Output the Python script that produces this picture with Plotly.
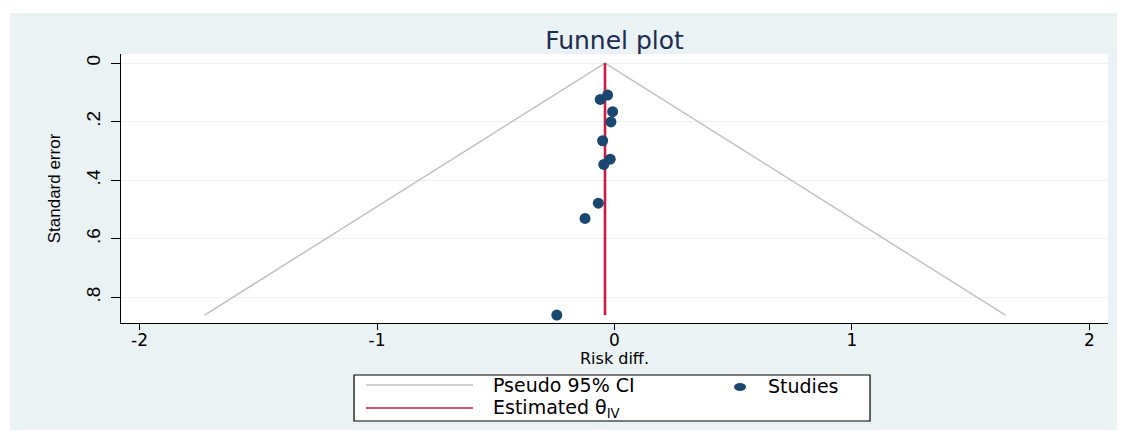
import plotly.graph_objects as go

# study estimates
studies_rd = [-0.029, -0.060, -0.008, -0.015, -0.050, -0.018, -0.045, -0.068, -0.124, -0.243]
studies_se = [0.109, 0.124, 0.166, 0.201, 0.265, 0.328, 0.346, 0.478, 0.530, 0.860]

# pooled estimate and pseudo 95% CI funnel
theta_rd = [-0.040, -0.040]
theta_se = [0.0, 0.860]
ci_rd = [-1.726, -0.040, 1.646]
ci_se = [0.860, 0.0, 0.860]

x_ticks = [-2, -1, 0, 1, 2]
x_labels = ["-2", "-1", "0", "1", "2"]
y_ticks = [0, 0.2, 0.4, 0.6, 0.8]
y_labels = ["0", ".2", ".4", ".6", ".8"]

BG = "#EAF2F3"
NAVY = "#1A476F"
RED = "#CC1A44"
CI_GRAY = "#C3C3C3"
H_FONT = "DejaVu Sans"
V_FONT = "Liberation Sans"

fig = go.Figure()

fig.add_trace(go.Scatter(x=ci_rd, y=ci_se, mode="lines", name="Pseudo 95% CI",
                         line=dict(color=CI_GRAY, width=1.5), hoverinfo="skip"))
fig.add_trace(go.Scatter(x=theta_rd, y=theta_se, mode="lines", name="Estimated θIV",
                         line=dict(color=RED, width=2.6)))
fig.add_trace(go.Scatter(x=studies_rd, y=studies_se, mode="markers", name="Studies",
                         marker=dict(color=NAVY, size=11, line=dict(width=0))))

# page body adds an 8px offset, so the figure is 8px smaller than the window
fig.update_layout(
    width=1117, height=425,
    margin=dict(l=113, r=17, t=46, b=110),
    paper_bgcolor=BG, plot_bgcolor="white",
    showlegend=False,
    title=dict(text="Funnel plot", x=0.5, xref="paper", y=1 - 32 / 425, yanchor="middle",
               font=dict(family=H_FONT, size=25, color="#1C2B52")),
)

fig.update_xaxes(
    range=[-2.078, 2.078], tickvals=x_ticks, ticktext=x_labels,
    ticks="outside", ticklen=6, tickcolor="black", tickwidth=1, ticklabelstandoff=-5,
    showline=True, linecolor="black", linewidth=1.3,
    showgrid=False, zeroline=False,
    tickfont=dict(family=H_FONT, size=17, color="black"),
)
fig.update_yaxes(
    range=[0.887, -0.031], tickvals=y_ticks, ticktext=y_labels, tickangle=-90,
    ticks="outside", ticklen=9, tickcolor="black", tickwidth=1, ticklabelstandoff=3,
    showline=True, linecolor="black", linewidth=1.3,
    showgrid=True, gridcolor=BG, gridwidth=1, zeroline=False,
    tickfont=dict(family=V_FONT, size=19, color="black"),
    title=dict(text="Standard error", standoff=18, font=dict(family=V_FONT, size=17, color="black")),
)

# x axis title sits tight under the tick labels, as in Stata
fig.add_annotation(text="Risk diff.", xref="paper", yref="paper", x=0.5, y=-0.1338,
                   xanchor="center", yanchor="middle", showarrow=False,
                   font=dict(family=H_FONT, size=16, color="black"))

# white outer border strips around the grey graph region
for x0, x1, y0, y1 in [(-0.2, -0.1125, -0.5, 1.3), (-0.2, 1.1, 1.1524, 1.3), (-0.2, 1.1, -0.5, -0.3978)]:
    fig.add_shape(type="rect", xref="paper", yref="paper", x0=x0, x1=x1, y0=y0, y1=y1,
                  fillcolor="white", line=dict(width=0), layer="below")

# legend box drawn by hand so it matches the two-column Stata layout
fig.add_shape(type="rect", xref="paper", yref="paper", x0=0.2361, x1=0.7589, y0=-0.3643, y1=-0.1933,
              fillcolor="white", line=dict(color="black", width=1.2), layer="below")
fig.add_shape(type="line", xref="paper", yref="paper", x0=0.2482, x1=0.3566, y0=-0.2305, y1=-0.2305,
              line=dict(color=CI_GRAY, width=1.5))
fig.add_shape(type="line", xref="paper", yref="paper", x0=0.2482, x1=0.3566, y0=-0.3160, y1=-0.3160,
              line=dict(color=RED, width=1.5))
fig.add_shape(type="circle", xref="paper", yref="paper", xsizemode="pixel", ysizemode="pixel",
              xanchor=0.6272, yanchor=-0.2379, x0=-6, x1=6, y0=-4, y1=4,
              fillcolor=NAVY, line=dict(width=0))
legend_font = dict(family=H_FONT, size=19, color="black")
for txt, x, y in [("Pseudo 95% CI", 0.3749, -0.2305), ("Estimated θ<sub>IV</sub>", 0.3749, -0.3180),
                  ("Studies", 0.6535, -0.2345)]:
    fig.add_annotation(text=txt, xref="paper", yref="paper", x=x, y=y, xanchor="left", yanchor="middle",
                       showarrow=False, font=legend_font)

fig.write_html("out.html")
